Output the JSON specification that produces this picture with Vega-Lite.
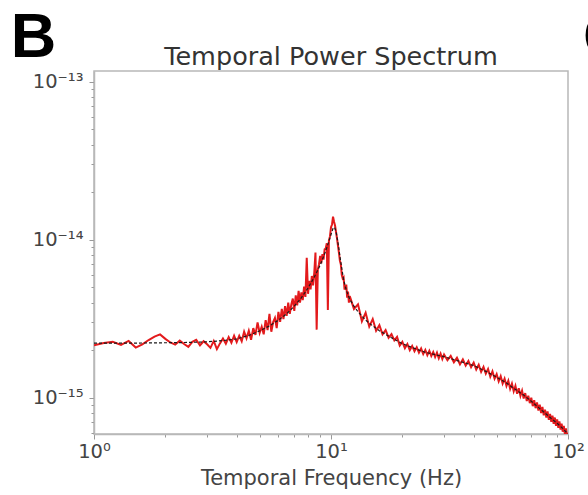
{
  "$schema": "https://vega.github.io/schema/vega-lite/v6.json",
  "autosize": {"type": "none"},
  "width": 474,
  "height": 363,
  "padding": {"left": 94, "top": 71, "right": 20, "bottom": 61},
  "background": "white",
  "config": {
    "view": {"stroke": "#b8b8b8", "strokeWidth": 1.5},
    "axis": {"grid": false, "domainColor": "#b8b8b8", "domainWidth": 1.5, "tickColor": "#999", "labelFont": "DejaVu Sans", "labelFontSize": 19.5, "labelColor": "#444", "titleFont": "DejaVu Sans", "titleFontSize": 21, "titleFontWeight": "normal", "titleColor": "#444"}
  },
  "datasets": {
    "spec": [
      {"f":1.0,"p":2.15e-15},{"f":1.1,"p":2.22e-15},{"f":1.2,"p":2.26e-15},{"f":1.3,"p":2.16e-15},{"f":1.4,"p":2.29e-15},{"f":1.5,"p":2.08e-15},{"f":1.6,"p":2.18e-15},{"f":1.7,"p":2.32e-15},{"f":1.8,"p":2.44e-15},{"f":1.9,"p":2.52e-15},{"f":2.0,"p":2.36e-15},{"f":2.1,"p":2.24e-15},{"f":2.2,"p":2.17e-15},{"f":2.3,"p":2.30e-15},{"f":2.4,"p":2.19e-15},{"f":2.5,"p":2.10e-15},{"f":2.6,"p":2.26e-15},{"f":2.7,"p":2.33e-15},{"f":2.8,"p":2.15e-15},{"f":2.9,"p":2.28e-15},{"f":3.0,"p":2.18e-15},{"f":3.1,"p":2.07e-15},{"f":3.2,"p":2.29e-15},{"f":3.3,"p":2.03e-15},{"f":3.4,"p":2.21e-15},{"f":3.5,"p":2.37e-15},{"f":3.6,"p":2.20e-15},{"f":3.7,"p":2.42e-15},{"f":3.8,"p":2.23e-15},{"f":3.9,"p":2.47e-15},{"f":4.0,"p":2.25e-15},
      {"f":4.1,"p":2.47e-15},{"f":4.2,"p":2.28e-15},{"f":4.3,"p":2.62e-15},{"f":4.4,"p":2.38e-15},{"f":4.5,"p":2.66e-15},{"f":4.6,"p":2.33e-15},{"f":4.7,"p":2.76e-15},{"f":4.8,"p":2.50e-15},{"f":4.9,"p":3.00e-15},{"f":5.0,"p":2.58e-15},{"f":5.1,"p":2.82e-15},{"f":5.2,"p":2.52e-15},{"f":5.3,"p":3.10e-15},{"f":5.4,"p":2.68e-15},{"f":5.5,"p":3.40e-15},{"f":5.6,"p":2.62e-15},{"f":5.7,"p":3.02e-15},{"f":5.8,"p":3.20e-15},{"f":5.9,"p":2.76e-15},{"f":6.0,"p":3.50e-15},{"f":6.1,"p":3.02e-15},{"f":6.2,"p":3.65e-15},{"f":6.3,"p":3.15e-15},{"f":6.4,"p":3.80e-15},{"f":6.5,"p":3.30e-15},{"f":6.6,"p":4.00e-15},{"f":6.7,"p":3.40e-15},{"f":6.8,"p":3.90e-15},{"f":6.9,"p":4.25e-15},{"f":7.0,"p":3.55e-15},{"f":7.1,"p":4.45e-15},{"f":7.2,"p":3.85e-15},{"f":7.3,"p":4.75e-15},{"f":7.4,"p":4.00e-15},{"f":7.5,"p":4.65e-15},{"f":7.6,"p":4.15e-15},{"f":7.7,"p":5.05e-15},{"f":7.8,"p":4.35e-15},{"f":7.9,"p":7.70e-15},{"f":8.0,"p":4.55e-15},{"f":8.1,"p":5.50e-15},{"f":8.2,"p":4.85e-15},{"f":8.3,"p":5.90e-15},{"f":8.4,"p":5.15e-15},{"f":8.5,"p":6.20e-15},{"f":8.6,"p":8.30e-15},{"f":8.7,"p":2.70e-15},{"f":8.8,"p":6.50e-15},{"f":8.9,"p":7.00e-15},{"f":9.0,"p":7.90e-15},{"f":9.1,"p":7.10e-15},{"f":9.2,"p":8.10e-15},{"f":9.3,"p":7.50e-15},{"f":9.4,"p":8.70e-15},{"f":9.5,"p":8.80e-15},{"f":9.6,"p":9.50e-15},{"f":9.7,"p":3.60e-15},{"f":9.8,"p":9.90e-15},{"f":9.9,"p":1.05e-14},{"f":10.0,"p":1.20e-14},{"f":10.1,"p":1.25e-14},{"f":10.2,"p":1.40e-14},{"f":10.3,"p":1.30e-14},{"f":10.4,"p":1.23e-14},{"f":10.5,"p":1.12e-14},{"f":10.6,"p":1.02e-14},{"f":10.7,"p":9.20e-15},{"f":10.8,"p":8.30e-15},{"f":10.9,"p":7.40e-15},{"f":11.0,"p":7.00e-15},{"f":11.1,"p":6.00e-15},{"f":11.2,"p":5.70e-15},{"f":11.3,"p":5.80e-15},{"f":11.4,"p":4.90e-15},{"f":11.5,"p":4.90e-15},{"f":11.6,"p":5.20e-15},{"f":11.7,"p":4.30e-15},{"f":11.8,"p":4.70e-15},{"f":11.9,"p":4.00e-15},{"f":12.0,"p":4.40e-15},
      {"f":12.5,"p":3.65e-15},{"f":13.0,"p":3.90e-15},{"f":13.5,"p":3.05e-15},{"f":14.0,"p":3.45e-15},{"f":14.5,"p":2.82e-15},{"f":15.0,"p":3.15e-15},{"f":15.5,"p":2.66e-15},{"f":16.0,"p":2.88e-15},{"f":16.5,"p":2.52e-15},{"f":17.0,"p":2.68e-15},{"f":17.5,"p":2.40e-15},{"f":18.0,"p":2.53e-15},{"f":18.5,"p":2.31e-15},{"f":19.0,"p":2.43e-15},{"f":19.5,"p":2.14e-15},{"f":20.0,"p":2.26e-15},{"f":20.5,"p":2.06e-15},{"f":21.0,"p":2.19e-15},{"f":21.5,"p":2.00e-15},{"f":22.0,"p":2.13e-15},{"f":22.5,"p":1.97e-15},{"f":23.0,"p":2.09e-15},{"f":23.5,"p":1.93e-15},{"f":24.0,"p":2.05e-15},{"f":24.5,"p":1.89e-15},{"f":25.0,"p":2.01e-15},{"f":25.5,"p":1.86e-15},{"f":26.0,"p":1.98e-15},{"f":26.5,"p":1.84e-15},{"f":27.0,"p":1.95e-15},{"f":27.5,"p":1.81e-15},{"f":28.0,"p":1.93e-15},{"f":28.5,"p":1.78e-15},{"f":29.0,"p":1.90e-15},{"f":29.5,"p":1.76e-15},{"f":30.0,"p":1.88e-15},
      {"f":31,"p":1.73e-15},{"f":32,"p":1.84e-15},{"f":33,"p":1.68e-15},{"f":34,"p":1.79e-15},{"f":35,"p":1.63e-15},{"f":36,"p":1.75e-15},{"f":37,"p":1.60e-15},{"f":38,"p":1.71e-15},{"f":39,"p":1.56e-15},{"f":40,"p":1.67e-15},{"f":41,"p":1.51e-15},{"f":42,"p":1.62e-15},{"f":43,"p":1.46e-15},{"f":44,"p":1.57e-15},{"f":45,"p":1.42e-15},{"f":46,"p":1.52e-15},{"f":47,"p":1.36e-15},{"f":48,"p":1.47e-15},{"f":49,"p":1.32e-15},{"f":50,"p":1.41e-15},{"f":51,"p":1.27e-15},{"f":52,"p":1.37e-15},{"f":53,"p":1.23e-15},{"f":54,"p":1.32e-15},{"f":55,"p":1.19e-15},{"f":56,"p":1.28e-15},{"f":57,"p":1.14e-15},{"f":58,"p":1.23e-15},{"f":59,"p":1.10e-15},{"f":60,"p":1.19e-15},{"f":61,"p":1.06e-15},{"f":62,"p":1.15e-15},{"f":63,"p":1.03e-15},{"f":64,"p":1.11e-15},{"f":65,"p":9.90e-16},{"f":66,"p":1.07e-15},{"f":67,"p":9.55e-16},{"f":68,"p":1.03e-15},{"f":69,"p":9.25e-16},{"f":70,"p":1.00e-15},{"f":71,"p":8.85e-16},{"f":72,"p":9.65e-16},{"f":73,"p":8.60e-16},{"f":74,"p":9.35e-16},{"f":75,"p":8.30e-16},{"f":76,"p":9.05e-16},{"f":77,"p":8.00e-16},{"f":78,"p":8.75e-16},{"f":79,"p":7.75e-16},{"f":80,"p":8.40e-16},{"f":81,"p":7.50e-16},{"f":82,"p":8.20e-16},{"f":83,"p":7.25e-16},{"f":84,"p":7.90e-16},{"f":85,"p":7.05e-16},{"f":86,"p":7.70e-16},{"f":87,"p":6.85e-16},{"f":88,"p":7.50e-16},{"f":89,"p":6.65e-16},{"f":90,"p":7.30e-16},{"f":91,"p":6.45e-16},{"f":92,"p":7.10e-16},{"f":93,"p":6.30e-16},{"f":94,"p":6.85e-16},{"f":95,"p":6.10e-16},{"f":96,"p":6.65e-16},{"f":97,"p":5.90e-16},{"f":98,"p":6.40e-16},{"f":99,"p":5.75e-16},{"f":100,"p":6.00e-16}
    ],
    "fit": [
      {"f":1,"p":2.22e-15},{"f":1.5,"p":2.22e-15},{"f":2,"p":2.23e-15},{"f":2.5,"p":2.24e-15},{"f":3,"p":2.26e-15},{"f":3.5,"p":2.30e-15},{"f":4,"p":2.36e-15},{"f":4.5,"p":2.48e-15},{"f":5,"p":2.65e-15},{"f":5.5,"p":2.85e-15},{"f":6,"p":3.10e-15},{"f":6.5,"p":3.40e-15},{"f":7,"p":3.80e-15},{"f":7.5,"p":4.30e-15},{"f":8,"p":4.95e-15},{"f":8.5,"p":5.80e-15},{"f":9,"p":6.90e-15},{"f":9.5,"p":8.50e-15},{"f":9.8,"p":9.80e-15},{"f":10,"p":1.08e-14},{"f":10.2,"p":1.18e-14},{"f":10.35,"p":1.20e-14},{"f":10.5,"p":1.13e-14},{"f":10.7,"p":9.60e-15},{"f":11,"p":7.20e-15},{"f":11.3,"p":5.60e-15},{"f":11.6,"p":4.80e-15},{"f":12,"p":4.20e-15},{"f":12.5,"p":3.80e-15},{"f":13,"p":3.50e-15},{"f":14,"p":3.10e-15},{"f":15,"p":2.85e-15},{"f":16,"p":2.66e-15},{"f":18,"p":2.40e-15},{"f":20,"p":2.20e-15},{"f":22,"p":2.08e-15},{"f":25,"p":1.94e-15},{"f":30,"p":1.82e-15},{"f":35,"p":1.70e-15},{"f":40,"p":1.60e-15},{"f":45,"p":1.47e-15},{"f":50,"p":1.35e-15},{"f":55,"p":1.24e-15},{"f":60,"p":1.13e-15},{"f":65,"p":1.04e-15},{"f":70,"p":9.5e-16},{"f":75,"p":8.7e-16},{"f":80,"p":8.0e-16},{"f":85,"p":7.4e-16},{"f":90,"p":6.9e-16},{"f":95,"p":6.4e-16},{"f":100,"p":5.9e-16}
    ],
    "labels": [{"t":"B"}]
  },
  "layer": [
    {
      "data": {"name": "spec"},
      "mark": {"type": "line", "color": "#e31a1c", "strokeWidth": 2, "clip": true},
      "encoding": {
        "x": {"field": "f", "type": "quantitative", "scale": {"type": "log", "domain": [1, 100], "nice": false},
          "axis": {"title": "Temporal Frequency (Hz)", "values": [1,2,3,4,5,6,7,8,9,10,20,30,40,50,60,70,80,90,100],
            "labelExpr": "datum.value == 1 ? '10⁰' : datum.value == 10 ? '10¹' : datum.value == 100 ? '10²' : ''",
            "tickSize": {"condition": {"test": "datum.value == 1 || datum.value == 10 || datum.value == 100", "value": 5}, "value": 3},
            "labelPadding": 3, "titlePadding": 7, "labelFlush": false}},
        "y": {"field": "p", "type": "quantitative", "scale": {"type": "log", "domain": [5.9e-16, 1.17e-13], "nice": false},
          "axis": {"title": null, "values": [6e-16,7e-16,8e-16,9e-16,1e-15,2e-15,3e-15,4e-15,5e-15,6e-15,7e-15,8e-15,9e-15,1e-14,2e-14,3e-14,4e-14,5e-14,6e-14,7e-14,8e-14,9e-14,1e-13],
            "labelExpr": "datum.value == 1e-15 ? '10⁻¹⁵' : datum.value == 1e-14 ? '10⁻¹⁴' : datum.value == 1e-13 ? '10⁻¹³' : ''",
            "tickSize": {"condition": {"test": "datum.value == 1e-15 || datum.value == 1e-14 || datum.value == 1e-13", "value": 5}, "value": 3},
            "labelPadding": 6, "labelFlush": false}}
      }
    },
    {
      "data": {"name": "fit"},
      "mark": {"type": "line", "color": "#1a1a1a", "strokeWidth": 1.2, "strokeDash": [3, 2], "clip": true},
      "encoding": {
        "x": {"field": "f", "type": "quantitative"},
        "y": {"field": "p", "type": "quantitative"}
      }
    },
    {
      "data": {"name": "labels"},
      "mark": {"type": "text", "font": "DejaVu Sans", "fontSize": 25.5, "align": "center", "baseline": "alphabetic", "color": "#333", "clip": false},
      "encoding": {
        "x": {"datum": 10},
        "y": {"datum": 1.28e-13},
        "text": {"value": "Temporal Power Spectrum"}
      }
    },
    {
      "data": {"name": "labels"},
      "mark": {"type": "text", "font": "Liberation Sans", "fontSize": 63, "fontWeight": "bold", "align": "left", "baseline": "alphabetic", "color": "black", "clip": false},
      "encoding": {
        "x": {"datum": 0.445},
        "y": {"datum": 1.44e-13},
        "text": {"value": "B"}
      }
    },
    {
      "data": {"name": "labels"},
      "mark": {"type": "text", "font": "Liberation Sans", "fontSize": 63, "fontWeight": "bold", "align": "left", "baseline": "alphabetic", "color": "black", "clip": false},
      "encoding": {
        "x": {"datum": 115.7},
        "y": {"datum": 1.44e-13},
        "text": {"value": "C"}
      }
    }
  ]
}
